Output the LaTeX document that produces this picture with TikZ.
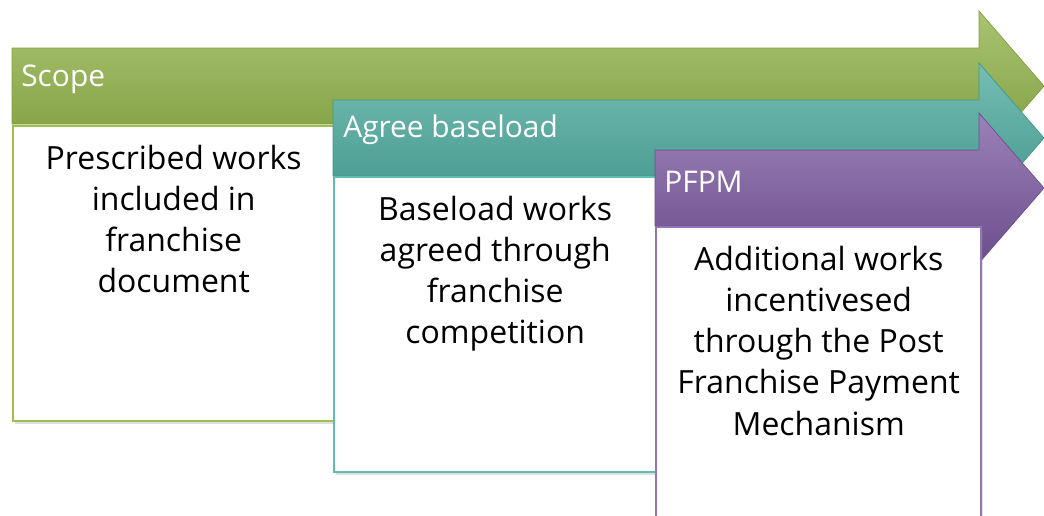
\documentclass[tikz,border=0pt]{standalone}
\usepackage{fontspec}
\setmainfont{Open Sans}
\usetikzlibrary{positioning,shadows}

\definecolor{colorGreen}{HTML}{8DB043}
\definecolor{colorGreenLine}{HTML}{9CC151}
\definecolor{colorTeal}{HTML}{48A89C}
\definecolor{colorTealLine}{HTML}{62BDB1}
\definecolor{colorPurple}{HTML}{7A58A0}
\definecolor{colorPurpleLine}{HTML}{9275B6}

% one stage arrow: #1 colour, #2 left x, #3 top of the shaft
\newcommand{\stagearrow}[3]{%
  \shade[top color=#1!75!white, middle color=#1, bottom color=#1!88!black,
         draw=#1!90!black, line width=0.4pt]
    (#2,#3) -- (979,#3) -- (979,#3-37) -- (1044,#3+38) -- (979,#3+113)
    -- (979,#3+76) -- (#2,#3+76) -- cycle;
}

\tikzset{
  stagebox/.style={draw=#1, line width=1.4pt, fill=white, rectangle,
    anchor=north west, inner sep=0pt,
    drop shadow={opacity=0.25, shadow xshift=1pt, shadow yshift=-1.5pt}},
  stagehead/.style={anchor=west, text=white, inner sep=0pt,
    font=\fontsize{17}{23}\selectfont},
  stagetext/.style={align=center, inner sep=0pt, anchor=north,
    font=\fontsize{18.2}{23.4}\selectfont}
}

\begin{document}
\begin{tikzpicture}[x=0.02cm, y=-0.02cm]
  \useasboundingbox (0,0) rectangle (1044,515);

  % Scope
  \stagearrow{colorGreen}{12}{48}
  \node[stagebox=colorGreenLine, minimum width=6.42cm, minimum height=5.9cm]
    (scopebox) at (12,125) {};
  \node[stagehead] (scopehead) at (21,79) {Scope};
  \node[stagetext, below=0.4cm of scopebox.north] (scopetext)
    {Prescribed works\\included in\\franchise\\document};

  % Agree baseload
  \stagearrow{colorTeal}{333}{100}
  \node[stagebox=colorTealLine, minimum width=6.44cm, minimum height=5.9cm]
    (baseloadbox) at (333,176) {};
  \node[stagehead] (baseloadhead) at (343,130) {Agree baseload};
  \node[stagetext, below=0.4cm of baseloadbox.north] (baseloadtext)
    {Baseload works\\agreed through\\franchise\\competition};

  % PFPM
  \stagearrow{colorPurple}{655}{150}
  \node[stagebox=colorPurpleLine, minimum width=6.5cm, minimum height=6cm]
    (pfpmbox) at (655,226) {};
  \node[stagehead] (pfpmhead) at (664,182) {PFPM};
  \node[stagetext, below=0.4cm of pfpmbox.north] (pfpmtext)
    {Additional works\\incentivesed\\through the Post\\Franchise Payment\\Mechanism};
\end{tikzpicture}
\end{document}
